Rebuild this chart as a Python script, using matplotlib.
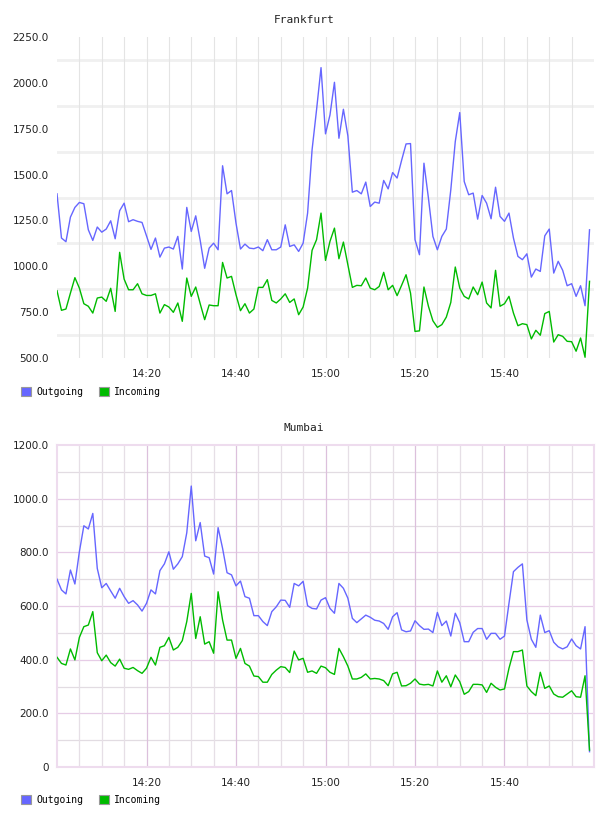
"""Network traffic per site: outgoing vs incoming, one panel per city."""

import matplotlib

matplotlib.use("Agg")
import matplotlib.pyplot as plt
import numpy as np
from matplotlib.patches import Patch

# one sample per minute starting at 14:00
FRANKFURT_OUT = [
    1395, 1154, 1134, 1268, 1321, 1348, 1341, 1199, 1141, 1214,
    1186, 1203, 1248, 1150, 1303, 1344, 1243, 1254, 1245, 1239,
    1166, 1092, 1154, 1050, 1099, 1105, 1094, 1163, 985, 1321,
    1190, 1275, 1141, 989, 1099, 1126, 1090, 1548, 1395, 1413,
    1235, 1094, 1121, 1099, 1096, 1105, 1085, 1145, 1090, 1090,
    1105, 1226, 1108, 1117, 1081, 1126, 1290, 1635, 1853, 2083,
    1722, 1825, 2003, 1698, 1856, 1711, 1404, 1413, 1395, 1459,
    1326, 1350, 1344, 1468, 1422, 1511, 1481, 1577, 1667, 1669,
    1145, 1063, 1562, 1372, 1163, 1090, 1163, 1203, 1417, 1680,
    1838, 1462, 1390, 1399, 1257, 1386, 1344, 1259, 1431, 1272,
    1245, 1290, 1154, 1054, 1036, 1068, 941, 985, 972, 1166,
    1203, 963, 1027, 978, 894, 905, 836, 894, 785, 1199,
]
FRANKFURT_IN = [
    867, 760, 767, 854, 938, 881, 796, 782, 745, 827,
    832, 809, 880, 754, 1076, 930, 872, 872, 905, 850,
    841, 841, 850, 745, 791, 778, 749, 800, 700, 936,
    836, 887, 796, 709, 789, 785, 785, 1021, 936, 945,
    845, 758, 796, 745, 767, 885, 885, 927, 814, 800,
    822, 850, 803, 822, 736, 778, 881, 1087, 1145, 1290,
    1032, 1136, 1208, 1041, 1132, 1008, 885, 896, 894, 936,
    881, 872, 890, 967, 872, 896, 840, 896, 954, 854,
    645, 648, 887, 782, 703, 667, 682, 723, 803, 996,
    881, 836, 822, 887, 845, 914, 800, 773, 978, 782,
    796, 836, 745, 676, 687, 682, 604, 651, 624, 742,
    754, 587, 627, 618, 591, 589, 537, 609, 504, 918,
]
MUMBAI_OUT = [
    700, 660, 645, 734, 682, 802, 899, 887, 945, 740,
    668, 684, 656, 629, 666, 635, 610, 620, 604, 581,
    610, 660, 645, 732, 757, 802, 737, 757, 784, 873,
    1047, 843, 911, 786, 780, 719, 892, 815, 724, 716,
    675, 693, 635, 629, 564, 564, 542, 527, 579, 597,
    622, 621, 595, 684, 675, 692, 601, 591, 589, 622,
    631, 591, 573, 684, 666, 629, 554, 538, 552, 566,
    558, 547, 544, 535, 513, 560, 575, 511, 504, 507,
    545, 527, 513, 514, 501, 576, 527, 544, 488, 573,
    538, 467, 467, 502, 516, 516, 476, 498, 498, 476,
    488, 610, 728, 744, 757, 548, 476, 446, 566, 501,
    508, 465, 448, 440, 448, 477, 452, 440, 523, 57,
]
MUMBAI_IN = [
    409, 386, 380, 440, 399, 483, 523, 529, 579, 426,
    396, 417, 389, 376, 402, 368, 364, 371, 359, 349,
    368, 409, 380, 446, 452, 483, 436, 446, 471, 542,
    647, 479, 560, 458, 467, 424, 653, 548, 473, 473,
    405, 442, 386, 376, 339, 337, 316, 316, 345, 361,
    374, 371, 352, 432, 399, 405, 353, 358, 349, 376,
    370, 353, 345, 442, 411, 376, 328, 328, 334, 347,
    328, 330, 328, 322, 303, 347, 353, 302, 303, 312,
    328, 309, 306, 308, 302, 358, 316, 340, 299, 343,
    318, 271, 281, 308, 308, 306, 278, 312, 297, 287,
    291, 368, 430, 430, 436, 302, 281, 266, 353, 293,
    302, 272, 262, 260, 272, 284, 262, 260, 340, 63,
]

TIME_TICKS = [20, 40, 60, 80, 100]  # minutes after 14:00
TIME_LABELS = ["14:20", "14:40", "15:00", "15:20", "15:40"]
FRANKFURT_YTICKS = [500, 750, 1000, 1250, 1500, 1750, 2000, 2250]
MUMBAI_YTICKS = [0, 200, 400, 600, 800, 1000, 1200]

OUT_COLOR = "#6666ff"
IN_COLOR = "#00bb00"
TICK_FONT = {"family": "DejaVu Sans", "size": 7.5, "color": "#222222"}
MONO = "DejaVu Sans Mono"

W, H = 608, 816


def _fig_rect(x0, y0, x1, y1):
    """Pixel box (top-left origin) -> figure fraction rect."""
    return [x0 / W, 1 - y1 / H, (x1 - x0) / W, (y1 - y0) / H]


def _draw_series(ax, outgoing, incoming):
    minutes = np.arange(len(outgoing))
    ax.plot(minutes, outgoing, color=OUT_COLOR, lw=1.0, zorder=3)
    ax.plot(minutes, incoming, color=IN_COLOR, lw=1.0, zorder=3)
    ax.set_xlim(0, 120)
    ax.set_xticks(TIME_TICKS)
    ax.set_xticklabels(TIME_LABELS, fontdict=TICK_FONT)
    ax.tick_params(length=0, pad=8)


def _legend(ax, y_px):
    handles = [
        Patch(facecolor=OUT_COLOR, edgecolor="#999999", lw=0.8),
        Patch(facecolor=IN_COLOR, edgecolor="#999999", lw=0.8),
    ]
    ax.legend(
        handles, ["Outgoing", "Incoming"],
        loc="center left", bbox_to_anchor=(21 / W, 1 - y_px / H),
        bbox_transform=ax.figure.transFigure, ncols=2, frameon=False,
        handlelength=1.05, handleheight=1.05, handletextpad=0.5,
        columnspacing=1.6, borderpad=0, borderaxespad=0,
        prop={"family": MONO, "size": 7},
    )


def plot_frankfurt(fig):
    ax = fig.add_axes(_fig_rect(57, 37, 594, 358))
    _draw_series(ax, FRANKFURT_OUT, FRANKFURT_IN)
    ax.set_ylim(500, 2250)
    ax.set_yticks(FRANKFURT_YTICKS)
    ax.set_yticklabels([f"{v:.1f}" for v in FRANKFURT_YTICKS], fontdict=TICK_FONT)
    ax.tick_params(axis="y", pad=6)
    for spine in ax.spines.values():
        spine.set_visible(False)
    # grid of this panel sits half a step off the labels
    for y in range(625, 2250, 250):
        ax.axhline(y, color="#f0f0f0", lw=2.0, zorder=1)
    for x in range(5, 120, 5):
        ax.axvline(x, color="#e4e4e4", lw=0.8, zorder=1)
    fig.text(304 / W, 1 - 20 / H, "Frankfurt", ha="center", va="center",
             family=MONO, size=8, color="#222222")
    _legend(ax, 392)


def plot_mumbai(fig):
    ax = fig.add_axes(_fig_rect(57, 445, 594, 767))
    _draw_series(ax, MUMBAI_OUT, MUMBAI_IN)
    ax.set_ylim(0, 1200)
    ax.set_yticks(MUMBAI_YTICKS)
    ax.set_yticklabels(["0"] + [f"{v:.1f}" for v in MUMBAI_YTICKS[1:]], fontdict=TICK_FONT)
    ax.tick_params(axis="y", pad=6)
    for spine in ax.spines.values():
        spine.set_color("#eedcee")
        spine.set_linewidth(1.5)
    for y in range(100, 1200, 100):
        major = y % 200 == 0
        ax.axhline(y, color="#e6cce6" if major else "#e2dce2", lw=0.9, zorder=1)
    for x in range(5, 120, 5):
        major = x % 20 == 0
        ax.axvline(x, color="#dcc0dc" if major else "#e6dfe6", lw=0.9, zorder=1)
    fig.text(304 / W, 1 - 428 / H, "Mumbai", ha="center", va="center",
             family=MONO, size=8, color="#222222")
    _legend(ax, 800)


def main():
    fig = plt.figure(figsize=(W / 100, H / 100), dpi=100)
    fig.patch.set_facecolor("white")
    plot_frankfurt(fig)
    plot_mumbai(fig)
    fig.savefig("out.png", dpi=100)
    plt.close(fig)


if __name__ == "__main__":
    main()
